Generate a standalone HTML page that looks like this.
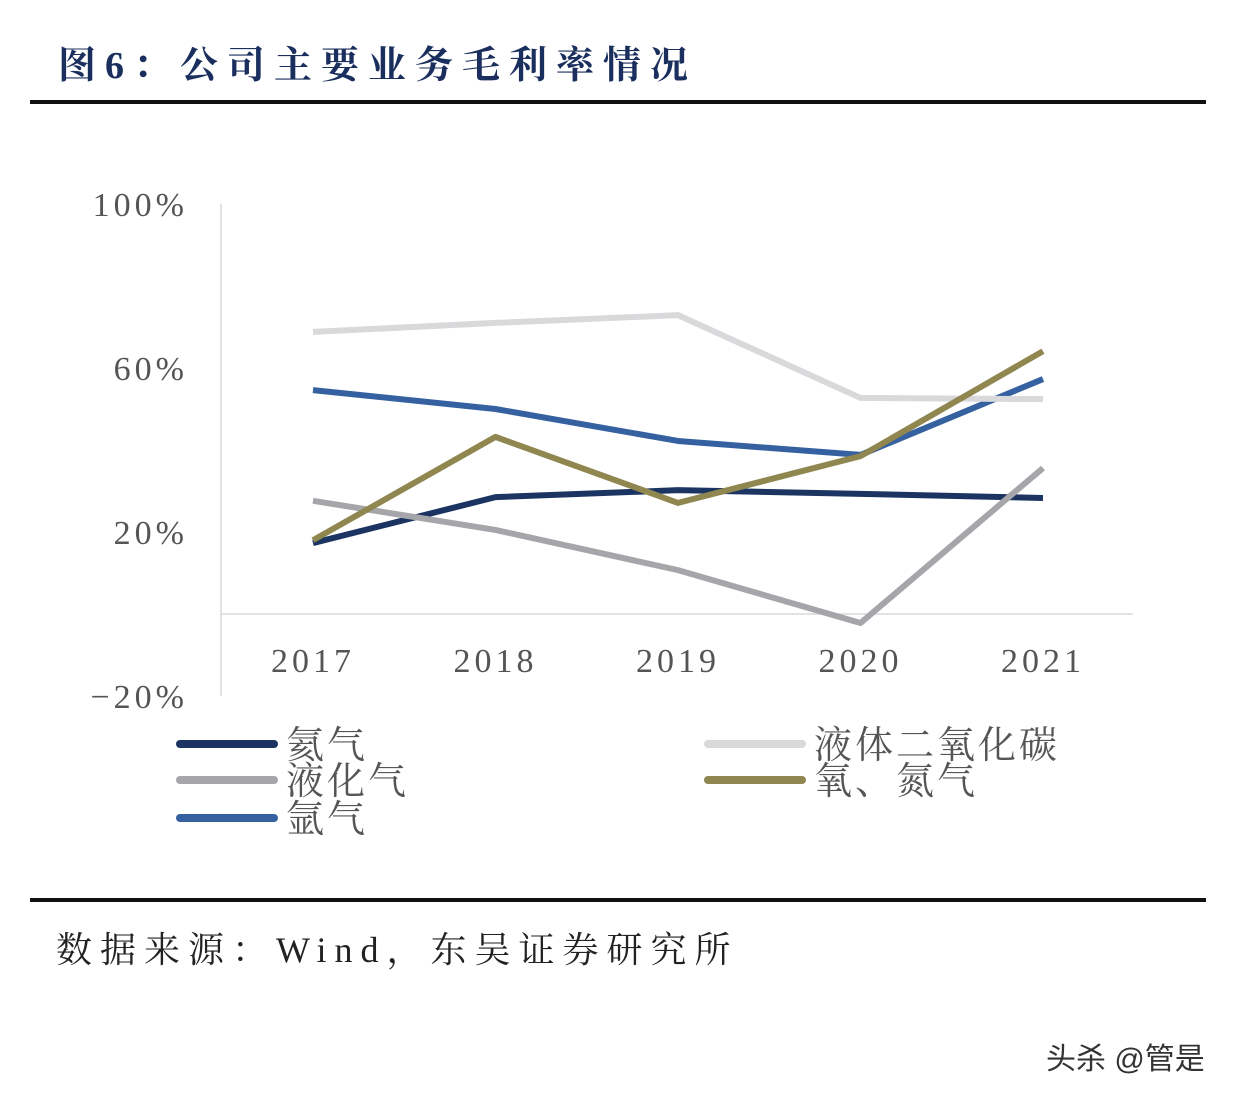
<!DOCTYPE html>
<html><head><meta charset="utf-8">
<style>
body{margin:0;background:#fff;width:1238px;height:1096px;overflow:hidden;position:relative;font-family:"Liberation Serif","Noto Serif CJK SC",serif}
.t{position:absolute;white-space:nowrap}
</style></head><body>
<div class="t" style="left:58px;top:34px;font-size:38px;font-weight:bold;color:#1b2f5e;letter-spacing:9px">图6：公司主要业务毛利率情况</div>
<div style="position:absolute;left:30px;top:100px;width:1176px;height:4px;background:#111"></div>
<svg id="c" width="1238" height="1096" style="position:absolute;left:0;top:0"></svg>
<div style="position:absolute;left:30px;top:898px;width:1176px;height:4px;background:#111"></div>
<div class="t" style="left:56px;top:922px;font-size:36px;color:#222;letter-spacing:8px">数据来源：Wind，东吴证券研究所</div>
<div class="t" style="left:1046px;top:1034px;font-size:30px;color:#333;font-family:'Liberation Sans','Noto Sans CJK SC',sans-serif">头杀 @管是</div>
<script>
const years=["2017","2018","2019","2020","2021"];
const yTicks=[100,60,20,-20];
const seriesNames=["氦气","液化气","氩气","液体二氧化碳","氧、氮气"];
const helium=[17.3,28.5,30.2,29.3,28.3];
const lpg=[27.6,20.5,10.7,-2.2,35.6];
const argon=[54.6,50,42.2,38.8,57.3];
const co2=[68.8,71,72.9,52.7,52.4];
const oxyNitro=[18,43.2,27.1,38.5,64.1];
const seriesData=[helium,lpg,argon,co2,oxyNitro];
const colors=["#1c3461","#a6a6aa","#3561a0","#d9d9db","#8f8650"];
const svg=document.getElementById('c');const NS="http://www.w3.org/2000/svg";
const x=i=>313+i*182.5;const y=v=>614-v*4.1;
function mk(t,a){const e=document.createElementNS(NS,t);for(const k in a)e.setAttribute(k,a[k]);svg.appendChild(e);return e;}
let e=mk('line',{x1:221,y1:y(100),x2:221,y2:y(-20),stroke:'#d8d8d8','stroke-width':1.5});

e=mk('line',{x1:221,y1:y(0),x2:1133,y2:y(0),stroke:'#d8d8d8','stroke-width':1.5});

yTicks.forEach(v=>{const t=mk('text',{x:188,y:y(v)+12,'text-anchor':'end','font-size':34,fill:'#555','letter-spacing':4});t.textContent=(v<0?'−':'')+Math.abs(v)+'%';
});
years.forEach((yr,i)=>{const t=mk('text',{x:x(i),y:672,'text-anchor':'middle','font-size':34,fill:'#555','letter-spacing':4});t.textContent=yr;
});
seriesData.forEach((d,s)=>{const p=mk('polyline',{points:d.map((v,i)=>x(i)+','+y(v)).join(' '),fill:'none',stroke:colors[s],'stroke-width':6,'stroke-linejoin':'round'});
});
const lg=[[180,744],[180,780],[180,818],[708,744],[708,780]];
seriesNames.forEach((n,s)=>{const [lx,ly]=lg[s];
const l=mk('line',{x1:lx,y1:ly,x2:lx+94,y2:ly,stroke:colors[s],'stroke-width':8,'stroke-linecap':'round'});

const t=mk('text',{x:lx+106,y:ly+14,'font-size':38,fill:'#555','letter-spacing':3});t.textContent=n;
});
</script>
</body></html>
